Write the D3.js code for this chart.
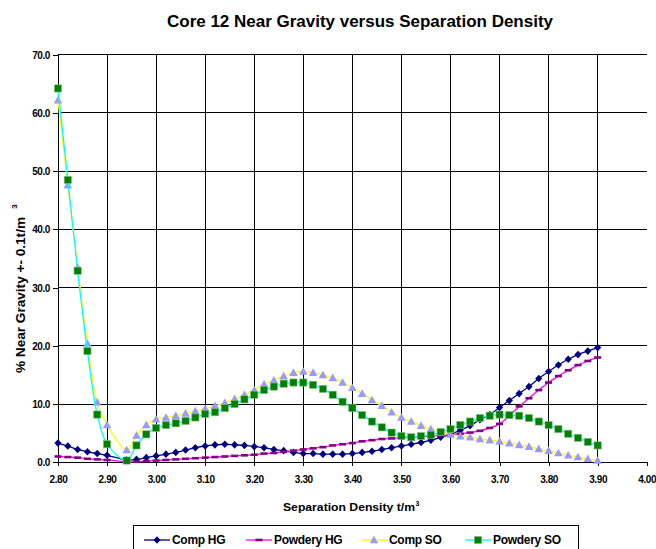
<!DOCTYPE html>
<html>
<head>
<meta charset="utf-8">
<script src="https://cdn.jsdelivr.net/npm/d3@7/dist/d3.min.js"></script>
<style>
  html, body { margin: 0; padding: 0; background: #fff; }
  svg { display: block; font-family: "Liberation Sans", Arial, sans-serif; }
</style>
</head>
<body>
<div id="chart"></div>
<script>
// separation density (t/m3), note 2.92 is missing in the source table
var densities = [2.80, 2.82, 2.84, 2.86, 2.88, 2.90, 2.94, 2.96, 2.98, 3.00,
                 3.02, 3.04, 3.06, 3.08, 3.10, 3.12, 3.14, 3.16, 3.18, 3.20,
                 3.22, 3.24, 3.26, 3.28, 3.30, 3.32, 3.34, 3.36, 3.38, 3.40,
                 3.42, 3.44, 3.46, 3.48, 3.50, 3.52, 3.54, 3.56, 3.58, 3.60,
                 3.62, 3.64, 3.66, 3.68, 3.70, 3.72, 3.74, 3.76, 3.78, 3.80,
                 3.82, 3.84, 3.86, 3.88, 3.90];

var compHG = [3.3, 2.8, 2.2, 1.8, 1.5, 1.2, 0.4, 0.5, 0.8, 1.1,
              1.4, 1.7, 2.1, 2.5, 2.8, 3.0, 3.1, 3.0, 2.9, 2.7,
              2.5, 2.2, 2.0, 1.7, 1.5, 1.5, 1.4, 1.4, 1.4, 1.5,
              1.7, 1.9, 2.2, 2.5, 2.8, 3.1, 3.4, 3.8, 4.3, 4.8,
              5.5, 6.3, 7.3, 8.2, 9.4, 10.6, 11.8, 13.0, 14.4, 15.6,
              16.7, 17.7, 18.5, 19.1, 19.7];

var powderyHG = [1.0, 0.9, 0.8, 0.6, 0.5, 0.4, 0.1, 0.1, 0.2, 0.3,
                 0.4, 0.5, 0.6, 0.7, 0.8, 0.9, 1.0, 1.1, 1.2, 1.3,
                 1.5, 1.6, 1.8, 2.0, 2.2, 2.4, 2.6, 2.9, 3.1, 3.3,
                 3.6, 3.8, 4.0, 4.1, 4.2, 4.3, 4.4, 4.5, 4.6, 4.7,
                 4.9, 5.1, 5.4, 5.9, 6.6, 8.0, 9.6, 11.0, 12.4, 13.7,
                 14.8, 15.8, 16.7, 17.4, 18.0];

var compSO = [62.2, 47.6, 33.5, 20.4, 10.3, 6.4, 2.1, 4.6, 6.4, 7.4,
              7.7, 8.0, 8.4, 8.8, 9.2, 9.7, 10.2, 10.9, 11.6, 12.4,
              13.4, 14.1, 14.8, 15.4, 15.6, 15.4, 15.0, 14.5, 13.7, 12.8,
              11.8, 10.7, 9.7, 8.6, 7.7, 7.0, 6.3, 5.7, 5.2, 4.8,
              4.5, 4.3, 4.0, 3.8, 3.6, 3.3, 3.0, 2.7, 2.3, 2.0,
              1.6, 1.2, 0.9, 0.6, 0.3];

var powderySO = [64.2, 48.5, 32.9, 19.1, 8.2, 3.1, 0.3, 2.9, 4.8, 5.9,
                 6.4, 6.7, 7.1, 7.7, 8.3, 8.6, 9.3, 10.0, 10.8, 11.6,
                 12.4, 13.0, 13.5, 13.7, 13.7, 13.3, 12.6, 11.6, 10.4, 9.3,
                 8.1, 7.0, 6.0, 5.1, 4.5, 4.3, 4.5, 4.7, 5.2, 5.7,
                 6.4, 7.0, 7.6, 8.0, 8.2, 8.1, 8.0, 7.6, 7.0, 6.4,
                 5.7, 4.9, 4.2, 3.5, 2.9];

var seriesNames = ["Comp HG", "Powdery HG", "Comp SO", "Powdery SO"];
var xTicks = [2.80, 2.90, 3.00, 3.10, 3.20, 3.30, 3.40, 3.50, 3.60, 3.70, 3.80, 3.90, 4.00];
var yTicks = [0, 10, 20, 30, 40, 50, 60, 70];

var width = 656, height = 549;
var margin = {left: 58, top: 54.7, right: 9.3, bottom: 86.7};

var series = [
  {name: seriesNames[0], values: compHG, line: "#000080", marker: "diamond", fill: "#000080"},
  {name: seriesNames[1], values: powderyHG, line: "#ff00ff", marker: "dash", fill: "#800080"},
  {name: seriesNames[2], values: compSO, line: "#ffff00", marker: "triangle", fill: "#9999ff"},
  {name: seriesNames[3], values: powderySO, line: "#00ffff", marker: "square", fill: "#008000"}
];

var svg = d3.select("#chart").append("svg")
  .attr("width", width)
  .attr("height", height);

var x = d3.scaleLinear().domain([2.8, 4.0]).range([margin.left, width - margin.right]);
var y = d3.scaleLinear().domain([0, 70]).range([height - margin.bottom, margin.top]);

// title
svg.append("text")
  .attr("x", 360)
  .attr("y", 27)
  .attr("text-anchor", "middle")
  .attr("font-size", 16)
  .attr("font-weight", "bold")
  .attr("textLength", 386)
  .attr("lengthAdjust", "spacingAndGlyphs")
  .text("Core 12 Near Gravity versus Separation Density");

// gridlines (no vertical line at the last tick)
var grid = svg.append("g").attr("shape-rendering", "crispEdges");
grid.selectAll("line.h")
  .data(yTicks.slice(1))
  .enter().append("line")
  .attr("class", "h")
  .attr("x1", x(2.8)).attr("x2", x(4.0))
  .attr("y1", function(d) { return y(d); })
  .attr("y2", function(d) { return y(d); })
  .attr("stroke", "#000");
grid.selectAll("line.v")
  .data(xTicks.slice(1, -1))
  .enter().append("line")
  .attr("class", "v")
  .attr("y1", y(0)).attr("y2", y(70))
  .attr("x1", function(d) { return x(d); })
  .attr("x2", function(d) { return x(d); })
  .attr("stroke", "#000");

// axes
var yAxis = svg.append("g")
  .attr("transform", "translate(" + margin.left + ",0)")
  .call(d3.axisLeft(y).tickValues(yTicks).tickFormat(d3.format(".1f")).tickSize(5).tickPadding(3));
var xAxis = svg.append("g")
  .attr("transform", "translate(0," + y(0) + ")")
  .call(d3.axisBottom(x).tickValues(xTicks).tickFormat(d3.format(".2f")).tickSize(4).tickPadding(10));
[xAxis, yAxis].forEach(function(a) {
  a.attr("shape-rendering", "crispEdges");
  a.select(".domain").attr("stroke", "#000");
  a.selectAll(".tick line").attr("stroke", "#000");
  a.selectAll(".tick text")
    .attr("fill", "#000")
    .attr("font-size", 10)
    .attr("font-weight", "bold")
    .attr("letter-spacing", "-0.4")
    .style("font-family", "'Liberation Sans', Arial, sans-serif");
});
yAxis.selectAll(".tick text").attr("dy", "0.36em");

// axis titles
svg.append("text")
  .attr("transform", "translate(25,295) rotate(-90)")
  .attr("text-anchor", "middle")
  .attr("font-size", 12)
  .attr("font-weight", "bold")
  .attr("textLength", 156)
  .attr("lengthAdjust", "spacingAndGlyphs")
  .text("% Near Gravity +- 0.1t/m");
svg.append("text")
  .attr("transform", "translate(16.7,206.5) rotate(-90)")
  .attr("text-anchor", "middle")
  .attr("font-size", 8)
  .attr("font-weight", "bold")
  .text("3");
svg.append("text")
  .attr("x", 283)
  .attr("y", 511)
  .attr("font-size", 11.5)
  .attr("font-weight", "bold")
  .attr("textLength", 132)
  .attr("lengthAdjust", "spacingAndGlyphs")
  .text("Separation Density t/m");
svg.append("text")
  .attr("x", 415.5)
  .attr("y", 506)
  .attr("font-size", 7)
  .attr("font-weight", "bold")
  .text("3");

// marker shapes
function drawMarker(sel, type, fill) {
  if (type === "diamond") {
    sel.append("path").attr("d", "M0,-3.8L3.6,0L0,3.8L-3.6,0Z").attr("fill", fill);
  } else if (type === "dash") {
    sel.append("rect").attr("x", -3.5).attr("y", -1.3).attr("width", 7).attr("height", 2.6).attr("fill", fill);
  } else if (type === "triangle") {
    sel.append("path").attr("d", "M0,-4.3L4.3,3.3L-4.3,3.3Z").attr("fill", fill);
  } else {
    sel.append("rect").attr("x", -3.6).attr("y", -3.6).attr("width", 7.2).attr("height", 7.2)
      .attr("fill", fill).attr("stroke", "#7fc07f").attr("stroke-width", 0.6);
  }
}

var line = d3.line()
  .x(function(d) { return x(d[0]); })
  .y(function(d) { return y(d[1]); })
  .curve(d3.curveCatmullRom.alpha(0.5));

// series
series.forEach(function(s) {
  var pts = densities.map(function(dv, i) { return [dv, s.values[i]]; });
  var g = svg.append("g");
  g.append("path")
    .attr("d", line(pts))
    .attr("fill", "none")
    .attr("stroke", s.line)
    .attr("stroke-width", 1.3);
  g.selectAll("g.m")
    .data(pts)
    .enter().append("g")
    .attr("class", "m")
    .attr("transform", function(d) { return "translate(" + x(d[0]) + "," + y(d[1]) + ")"; })
    .each(function() { drawMarker(d3.select(this), s.marker, s.fill); });
});

// legend
var legend = svg.append("g");
legend.append("rect")
  .attr("x", 133.5).attr("y", 525.5)
  .attr("width", 445).attr("height", 30)
  .attr("fill", "#fff").attr("stroke", "#000");
var legendX = [144, 246, 361, 465];
series.forEach(function(s, i) {
  var item = legend.append("g").attr("transform", "translate(" + legendX[i] + ",540)");
  item.append("line").attr("x1", 0).attr("x2", 26).attr("stroke", s.line).attr("stroke-width", 1.3);
  drawMarker(item.append("g").attr("transform", "translate(13,0)"), s.marker, s.fill);
  item.append("text")
    .attr("x", 28)
    .attr("y", 4)
    .attr("font-size", 12)
    .attr("font-weight", "bold")
    .attr("letter-spacing", "-0.3")
    .text(s.name);
});
</script>
</body>
</html>
